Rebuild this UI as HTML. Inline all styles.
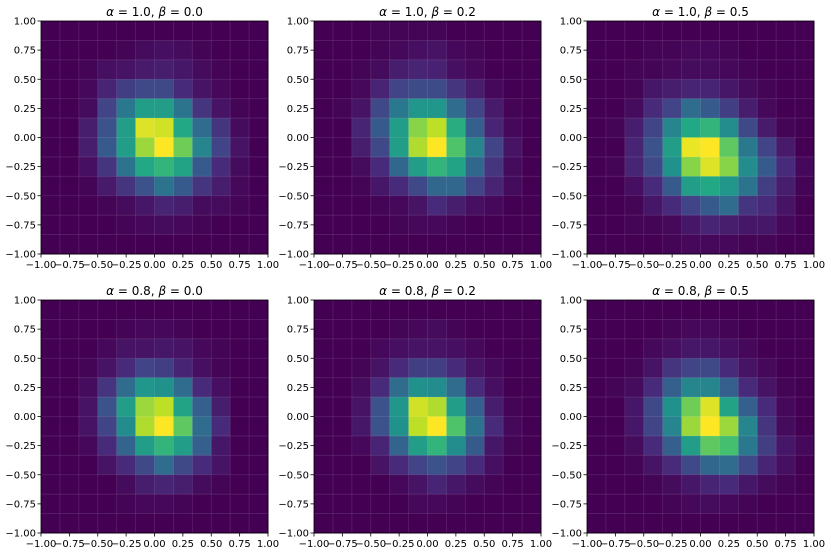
<!DOCTYPE html>
<html><head><meta charset="utf-8"><style>
html,body{margin:0;padding:0;background:#fff;}
svg{display:block;font-family:"DejaVu Sans","Liberation Sans",sans-serif;}
</style></head><body>
<svg id="fig" width="831" height="555" viewBox="0 0 831 555"></svg>
<script>
// ---- data ----
const panelTitles = [["1.0","0.0"],["1.0","0.2"],["1.0","0.5"],["0.8","0.0"],["0.8","0.2"],["0.8","0.5"]];
const tickValues = [-1,-0.75,-0.5,-0.25,0,0.25,0.5,0.75,1];
const tickLabels = ["−1.00","−0.75","−0.50","−0.25","0.00","0.25","0.50","0.75","1.00"];
const binEdges = [-1,-0.8333,-0.6667,-0.5,-0.3333,-0.1667,0,0.1667,0.3333,0.5,0.6667,0.8333,1];
const z = "0,0,0,0,0,0,0,0,0,0,0,0";
const hist1 = [
z,
"0,0,0,0,0.01,0.03,0.04,0.03,0.01,0,0,0",
"0,0,0.01,0.04,0.05,0.07,0.08,0.06,0.03,0.01,0,0",
"0,0,0.02,0.1,0.18,0.22,0.22,0.12,0.05,0.02,0,0",
"0,0,0.03,0.2,0.4,0.55,0.55,0.38,0.15,0.05,0.01,0",
"0,0,0.08,0.25,0.55,0.95,0.93,0.6,0.35,0.15,0.03,0",
"0,0,0.08,0.28,0.55,0.85,1.0,0.78,0.45,0.2,0.05,0",
"0,0,0.04,0.15,0.38,0.6,0.65,0.58,0.28,0.12,0.03,0",
"0,0,0.01,0.07,0.15,0.25,0.38,0.28,0.15,0.08,0.02,0",
"0,0,0,0.01,0.03,0.06,0.1,0.08,0.03,0.03,0.01,0",
"0,0,0,0,0.01,0.02,0.03,0.02,0.01,0,0,0",
z];
const hist2 = [
"0,0,0,0.01,0.01,0.01,0.01,0,0,0,0,0",
"0,0,0,0.01,0.02,0.04,0.05,0.02,0.01,0,0,0",
"0,0,0.01,0.03,0.08,0.1,0.09,0.04,0.02,0,0,0",
"0,0,0.02,0.1,0.2,0.23,0.23,0.15,0.08,0.02,0,0",
"0,0.01,0.05,0.22,0.4,0.52,0.52,0.35,0.2,0.07,0.01,0",
"0,0,0.1,0.28,0.55,0.82,0.9,0.62,0.3,0.1,0.02,0",
"0,0,0.08,0.22,0.55,0.88,1.0,0.72,0.45,0.2,0.05,0",
"0,0,0.03,0.12,0.33,0.55,0.65,0.58,0.33,0.15,0.03,0",
"0,0,0.01,0.06,0.12,0.22,0.33,0.33,0.2,0.1,0.03,0",
"0,0,0,0.01,0.02,0.05,0.12,0.08,0.04,0.02,0,0",
"0,0,0,0,0.01,0.02,0.02,0.01,0,0,0,0",
z];
const hist3 = [
z,
"0,0,0,0.01,0.01,0.02,0.02,0.01,0,0,0,0",
"0,0,0.01,0.01,0.02,0.03,0.03,0.02,0.01,0,0,0",
"0,0,0.01,0.06,0.08,0.1,0.1,0.06,0.03,0.01,0,0",
"0,0,0.03,0.12,0.2,0.35,0.28,0.18,0.08,0.02,0,0",
"0,0.01,0.08,0.2,0.45,0.6,0.65,0.48,0.22,0.07,0.01,0",
"0,0,0.1,0.25,0.55,0.97,1.0,0.75,0.4,0.2,0.07,0",
"0,0.01,0.1,0.22,0.5,0.82,0.95,0.82,0.48,0.28,0.12,0.02",
"0,0,0.04,0.12,0.28,0.55,0.6,0.52,0.38,0.18,0.08,0.01",
"0,0,0.01,0.06,0.12,0.2,0.28,0.35,0.15,0.12,0.05,0",
"0,0,0.01,0.01,0.02,0.06,0.1,0.08,0.06,0.06,0.02,0",
"0,0,0,0,0.01,0.02,0.02,0.02,0.01,0.01,0,0"];
const hist4 = [
z,
"0,0,0,0,0.01,0.02,0.02,0.01,0,0,0,0",
"0,0,0,0.02,0.05,0.05,0.06,0.05,0.02,0.01,0,0",
"0,0,0.01,0.05,0.12,0.2,0.18,0.1,0.04,0.01,0,0",
"0,0,0.03,0.15,0.35,0.52,0.5,0.35,0.12,0.04,0,0",
"0,0,0.05,0.25,0.55,0.85,0.9,0.58,0.3,0.08,0,0",
"0,0,0.05,0.2,0.48,0.88,1.0,0.75,0.35,0.12,0,0",
"0,0,0.02,0.12,0.32,0.55,0.65,0.55,0.3,0.06,0,0",
"0,0,0,0.05,0.12,0.22,0.35,0.22,0.12,0.05,0,0",
"0,0,0,0,0.03,0.08,0.1,0.08,0.03,0.01,0,0",
"0,0,0,0,0.01,0.02,0.02,0.01,0,0,0,0",
z];
const hist5 = [
z,
"0,0,0,0,0.01,0.02,0.03,0.01,0,0,0,0",
"0,0,0,0.02,0.04,0.05,0.05,0.04,0.02,0,0,0",
"0,0,0.01,0.05,0.12,0.18,0.18,0.12,0.05,0.02,0,0",
"0,0,0.03,0.12,0.35,0.5,0.48,0.35,0.12,0.04,0,0",
"0,0,0.05,0.25,0.52,0.93,0.88,0.55,0.3,0.08,0.01,0",
"0,0,0.06,0.25,0.5,0.9,1.0,0.72,0.38,0.12,0.02,0",
"0,0,0.02,0.1,0.32,0.55,0.65,0.48,0.28,0.06,0.01,0",
"0,0,0,0.05,0.12,0.2,0.25,0.2,0.12,0.04,0,0",
"0,0,0,0,0.02,0.05,0.1,0.06,0.03,0.01,0,0",
"0,0,0,0,0,0.02,0.02,0.01,0,0,0,0",
z];
const hist6 = [
z,
"0,0,0,0,0.01,0.02,0.02,0.01,0,0,0,0",
"0,0,0,0.02,0.04,0.06,0.06,0.04,0.02,0,0,0",
"0,0,0.01,0.05,0.15,0.2,0.22,0.12,0.05,0.02,0,0",
"0,0.01,0.03,0.12,0.3,0.45,0.45,0.3,0.12,0.05,0.01,0",
"0,0,0.06,0.22,0.5,0.78,0.95,0.58,0.3,0.12,0.02,0",
"0,0,0.06,0.2,0.45,0.85,1.0,0.85,0.45,0.15,0.03,0",
"0,0,0.03,0.12,0.3,0.55,0.75,0.7,0.4,0.18,0.06,0.02",
"0,0,0.01,0.05,0.12,0.22,0.33,0.35,0.22,0.1,0.04,0",
"0,0,0,0.01,0.03,0.06,0.1,0.12,0.06,0.03,0.01,0",
"0,0,0,0,0.01,0.02,0.03,0.02,0.01,0,0,0",
z];
const allHists = [hist1,hist2,hist3,hist4,hist5,hist6];

// ---- layout ----
const panelX = [41,314,587], panelY = [21,300], PW = 227, PH = 233;
const NS = "http://www.w3.org/2000/svg";
const svg = document.getElementById('fig');
const vir = [[68,1,84],[72,36,117],[65,68,135],[53,95,141],[42,120,142],[33,145,140],[34,168,132],[68,191,112],[122,209,81],[189,223,38],[253,231,37]];
function viridis(t){t=Math.max(0,Math.min(1,t))*10;const i=Math.min(9,Math.floor(t)),f=t-i;const a=vir[i],b=vir[i+1];
 return `rgb(${Math.round(a[0]+(b[0]-a[0])*f)},${Math.round(a[1]+(b[1]-a[1])*f)},${Math.round(a[2]+(b[2]-a[2])*f)})`;}
function mk(tag,attrs,parent){const e=document.createElementNS(NS,tag);for(const k in attrs)e.setAttribute(k,attrs[k]);(parent||svg).appendChild(e);return e;}

allHists.forEach((hist,p)=>{
  const ox = panelX[p%3], oy = panelY[Math.floor(p/3)];
  const sx = v => ox + (v+1)/2*PW;
  const sy = v => oy + (1-v)/2*PH;
  const g = mk('g',{});
  
  
  const grid = hist.map(r=>r.split(',').map(Number));
  grid.forEach((row,ri)=>row.forEach((v,ci)=>{
    const x0=sx(binEdges[ci]), x1=sx(binEdges[ci+1]);
    const y0=sy(binEdges[12-ri]), y1=sy(binEdges[11-ri]);
    const r = mk('rect',{x:x0,y:y0,width:x1-x0+0.5,height:y1-y0+0.5,fill:viridis(v)},g);
    
    
  }));
  for(let i=1;i<12;i++){
    mk('line',{x1:sx(binEdges[i]),x2:sx(binEdges[i]),y1:oy,y2:oy+PH,stroke:'#fff','stroke-opacity':0.12,'stroke-width':0.8},g);
    mk('line',{y1:sy(binEdges[i]),y2:sy(binEdges[i]),x1:ox,x2:ox+PW,stroke:'#fff','stroke-opacity':0.12,'stroke-width':0.8},g);
  }
  mk('rect',{x:ox,y:oy,width:PW,height:PH,fill:'none',stroke:'#000','stroke-width':0.8},g);
  tickValues.forEach((t,i)=>{
    mk('line',{x1:sx(t),x2:sx(t),y1:oy+PH,y2:oy+PH+3.5,stroke:'#000','stroke-width':0.8},g);
    const tx = mk('text',{x:sx(t),y:oy+PH+14,'font-size':10,'text-anchor':'middle',fill:'#000'},g);
    tx.textContent = tickLabels[i];
    
    
    mk('line',{x1:ox-3.5,x2:ox,y1:sy(t),y2:sy(t),stroke:'#000','stroke-width':0.8},g);
    const ty = mk('text',{x:ox-5,y:sy(t)+3.5,'font-size':10,'text-anchor':'end',fill:'#000'},g);
    ty.textContent = tickLabels[i];
    
    
  });
  const title = mk('text',{x:ox+PW/2,y:oy-5,'font-size':12,'text-anchor':'middle',fill:'#000'},g);
  
  
  title.innerHTML = `<tspan font-style="italic">α</tspan> = ${panelTitles[p][0]}, <tspan font-style="italic">β</tspan> = ${panelTitles[p][1]}`;
});
</script>
</body></html>
